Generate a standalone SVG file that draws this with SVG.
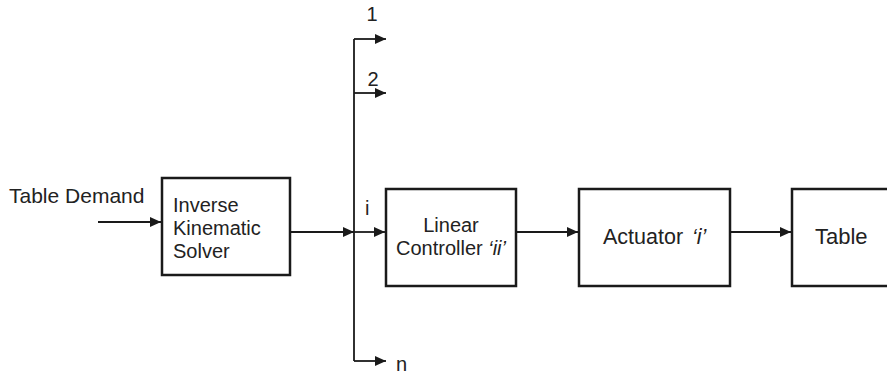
<svg xmlns="http://www.w3.org/2000/svg" width="887" height="374" viewBox="0 0 887 374">
<style>
text{font-family:"Liberation Sans",Arial,sans-serif;font-size:20px;fill:#222}
.box{fill:#fff;stroke:#1a1a1a;stroke-width:2.5}
.ln{fill:none;stroke:#1a1a1a;stroke-width:1.8}
.it{font-style:italic}
.lg{font-size:21.5px}
</style>
<defs>
<marker id="ah" markerUnits="userSpaceOnUse" markerWidth="12" markerHeight="11" refX="11" refY="5" orient="auto">
<path d="M0,0 L11,5 L0,10 z" fill="#1a1a1a"/>
</marker>
</defs>
<rect width="887" height="374" fill="#fff"/>
<g id="connectors">
<path class="ln" d="M98,222 H161" marker-end="url(#ah)"/>
<path class="ln" d="M290,232 H354" marker-end="url(#ah)"/>
<path class="ln" d="M354,39 V361"/>
<path class="ln" d="M354,39 H386" marker-end="url(#ah)"/>
<path class="ln" d="M354,93 H386" marker-end="url(#ah)"/>
<path class="ln" d="M354,232 H385" marker-end="url(#ah)"/>
<path class="ln" d="M354,361 H386" marker-end="url(#ah)"/>
<path class="ln" d="M516,232 H578" marker-end="url(#ah)"/>
<path class="ln" d="M730,232 H791" marker-end="url(#ah)"/>
</g>
<g id="labels">
<text x="9" y="203" style="font-size:21px">Table Demand</text>
<text x="372" y="21" text-anchor="middle">1</text>
<text x="373" y="86" text-anchor="middle">2</text>
<text x="365" y="215">i</text>
<text x="396" y="371">n</text>
</g>
<g id="iks">
<rect class="box" x="162" y="178" width="128" height="97"/>
<text x="173" y="212">Inverse</text>
<text x="173" y="235">Kinematic</text>
<text x="173" y="258">Solver</text>
</g>
<g id="controller">
<rect class="box" x="386" y="189" width="130" height="97"/>
<text x="451" y="232" text-anchor="middle">Linear</text>
<text x="451" y="255" text-anchor="middle">Controller <tspan class="it">‘ii’</tspan></text>
</g>
<g id="actuator">
<rect class="box" x="579" y="189" width="151" height="97"/>
<text class="lg" x="603" y="244">Actuator <tspan class="it" dx="3">‘i’</tspan></text>
</g>
<g id="table">
<rect class="box" x="792" y="189" width="110" height="97"/>
<text x="815" y="244" style="font-size:22px">Table</text>
</g>
</svg>
